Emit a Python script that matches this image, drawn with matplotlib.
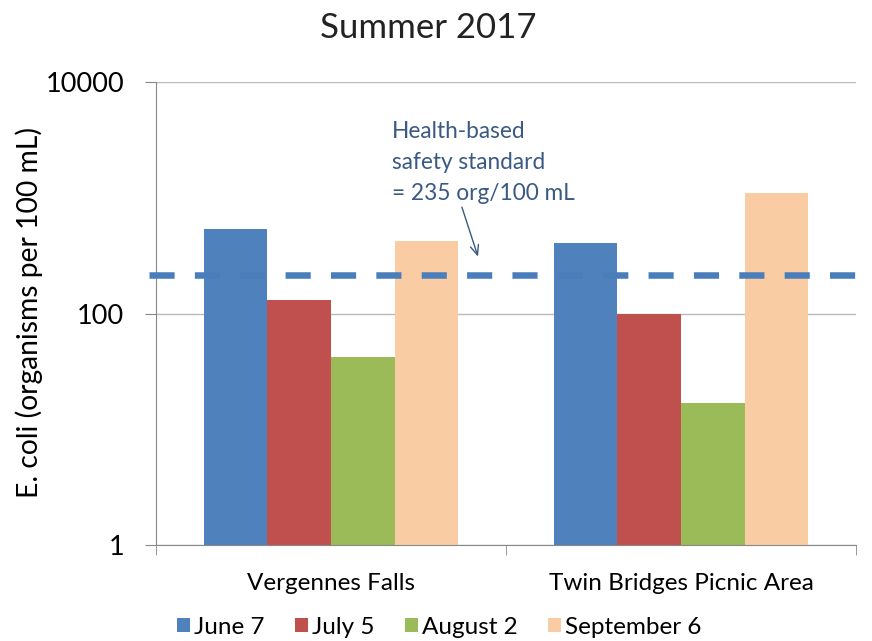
import matplotlib
matplotlib.use("Agg")
import matplotlib.pyplot as plt
import matplotlib.transforms as mtransforms
import numpy as np

plt.rcParams['font.family'] = ['Lato', 'DejaVu Sans']

sites = ["Vergennes Falls", "Twin Bridges Picnic Area"]
dates = ["June 7", "July 5", "August 2", "September 6"]
june7 = [532, 403]
july5 = [132, 100]
aug2 = [42.5, 16.7]
sep6 = [419, 1089]
standard = 215
yticks = [1, 100, 10000]
ytick_labels = ["1", "100", "10000"]
colors = ["#4F81BD", "#C0504D", "#9BBB59", "#F9CCA4"]

fig = plt.figure(figsize=(8.72, 6.41), dpi=100)
ax = fig.add_axes([156 / 872, 1 - 545 / 641, 700 / 872, 463 / 641])

series = [june7, july5, aug2, sep6]
x = np.arange(len(sites))
w = 0.182
for i, (vals, lab, c) in enumerate(zip(series, dates, colors)):
    ax.bar(x + (i - 1.5) * w, vals, width=w, color=c, label=lab, zorder=2)

ax.set_yscale('log')
ax.set_ylim(1, 10000)
ax.set_xlim(-0.5, 1.5)
ax.set_yticks(yticks)
ax.set_yticklabels(ytick_labels, fontsize=19.5)
ax.yaxis.set_minor_locator(matplotlib.ticker.NullLocator())
ax.set_xticks(x)
ax.set_xticklabels(sites, fontsize=17.5)
ax.tick_params(axis='x', length=0, pad=20)
ax.set_xticks([-0.5, 0.5, 1.5], minor=True)
ax.tick_params(axis='x', which='minor', length=7, color='#888888')
ax.tick_params(axis='y', length=8, color='#888888', pad=15)
ax.grid(axis='y', color='#BBBBBB', linewidth=1, zorder=0)
for s in ['top', 'right']:
    ax.spines[s].set_visible(False)
for s in ['left', 'bottom']:
    ax.spines[s].set_color('#888888')

fig.text(29 / 872, 1 - 313 / 641, "E. coli (organisms per 100 mL)", fontsize=20.3,
         rotation=90, ha='center', va='center')
fig.text(428 / 872, 1 - 28 / 641, "Summer 2017", fontsize=25, ha='center', va='center',
         color='#222222')

# standard line
ax.plot([-0.01, 1.0], [standard, standard], transform=ax.get_yaxis_transform(),
        color='#4A7EBB', linewidth=4.7, dashes=(3.85, 3.1), clip_on=False, zorder=3)

txt_color = '#3A5A84'
ax.text(0.337, 2018, "Health-based\nsafety standard\n= 235 org/100 mL",
        transform=mtransforms.blended_transform_factory(ax.transAxes, ax.transData),
        fontsize=16.3, color=txt_color, ha='left', va='center', linespacing=1.6)
ax.annotate("", xy=(0.46, 310), xycoords=('axes fraction', 'data'),
            xytext=(0.437, 830), textcoords=('axes fraction', 'data'),
            arrowprops=dict(arrowstyle='->,head_length=0.7,head_width=0.3',
                            color=txt_color, lw=1.0, shrinkA=0, shrinkB=0))

ax.legend(loc='center left', bbox_to_anchor=(177 / 872, 1 - 627 / 641),
          bbox_transform=fig.transFigure, ncol=4, frameon=False,
          fontsize=17.5, handlelength=0.55, handleheight=0.55, handletextpad=0.15,
          columnspacing=1.25, borderpad=0, borderaxespad=0)

fig.savefig("out.png", dpi=100)
